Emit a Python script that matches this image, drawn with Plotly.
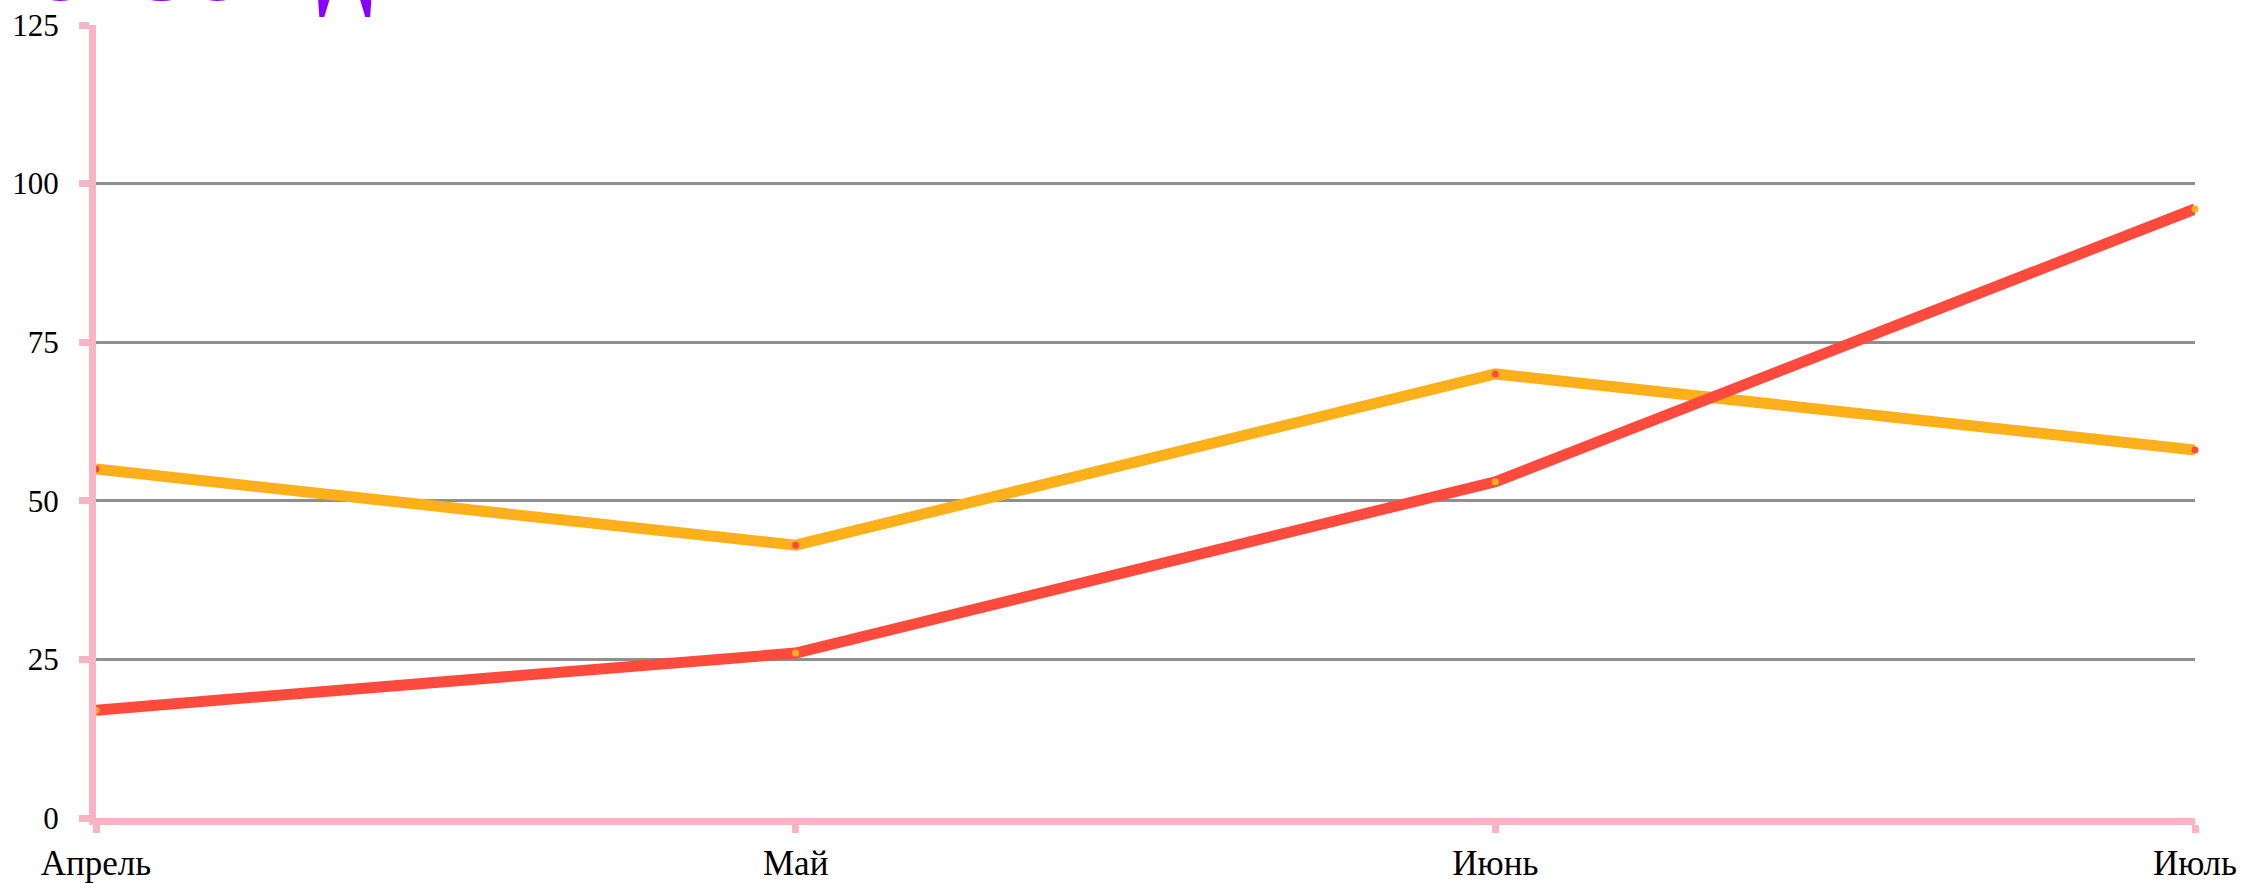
import plotly.graph_objects as go

months = ["Апрель", "Май", "Июнь", "Июль"]
red_values = [17, 26, 53, 96]
orange_values = [55, 43, 70, 58]
y_ticks = [0, 25, 50, 75, 100, 125]
title_text = "ОБЗОР ДНЯ"

RED = "#ff4b3e"
ORANGE = "#fdb019"
PINK = "#f9b4c3"
GRID = "#8f8f8f"

fig = go.Figure()
fig.add_trace(go.Scatter(
    x=months, y=orange_values, mode="lines+markers",
    line=dict(color=ORANGE, width=11),
    marker=dict(color=RED, size=7),
    cliponaxis=False, showlegend=False))
fig.add_trace(go.Scatter(
    x=months, y=red_values, mode="lines+markers",
    line=dict(color=RED, width=11),
    marker=dict(color=ORANGE, size=7),
    cliponaxis=False, showlegend=False))

fig.update_layout(
    width=2244, height=883,
    margin=dict(l=96, r=49, t=25, b=65, autoexpand=False),
    paper_bgcolor="white", plot_bgcolor="white",
    font=dict(family="Liberation Serif", size=30, color="black"),
    xaxis=dict(
        type="category", range=[0, 3], automargin=False,
        showgrid=False, zeroline=False,
        showline=True, linecolor=PINK, linewidth=7,
        ticks="outside", ticklen=8, tickwidth=7, tickcolor=PINK,
        tickfont=dict(family="Liberation Serif", size=35),
    ),
    yaxis=dict(
        range=[0, 125], tickvals=y_ticks, automargin=False,
        showgrid=True, gridcolor=GRID, gridwidth=2.5,
        zeroline=False,
        showline=True, linecolor=PINK, linewidth=7,
        ticks="outside", ticklen=10, tickwidth=7, tickcolor=PINK,
        tickfont=dict(family="Liberation Serif", size=31),
        ticklabelstandoff=14,
    ),
    annotations=[dict(
        text="<b>" + title_text + "</b>", xref="paper", yref="paper",
        x=-0.033, y=1.0075, xanchor="left", yanchor="bottom",
        showarrow=False,
        font=dict(family="Liberation Serif", size=80, color="#8a00ff"),
    )],
)

fig.write_html("out.html", config={"displayModeBar": False},
               post_script="document.body.style.margin='0';")
